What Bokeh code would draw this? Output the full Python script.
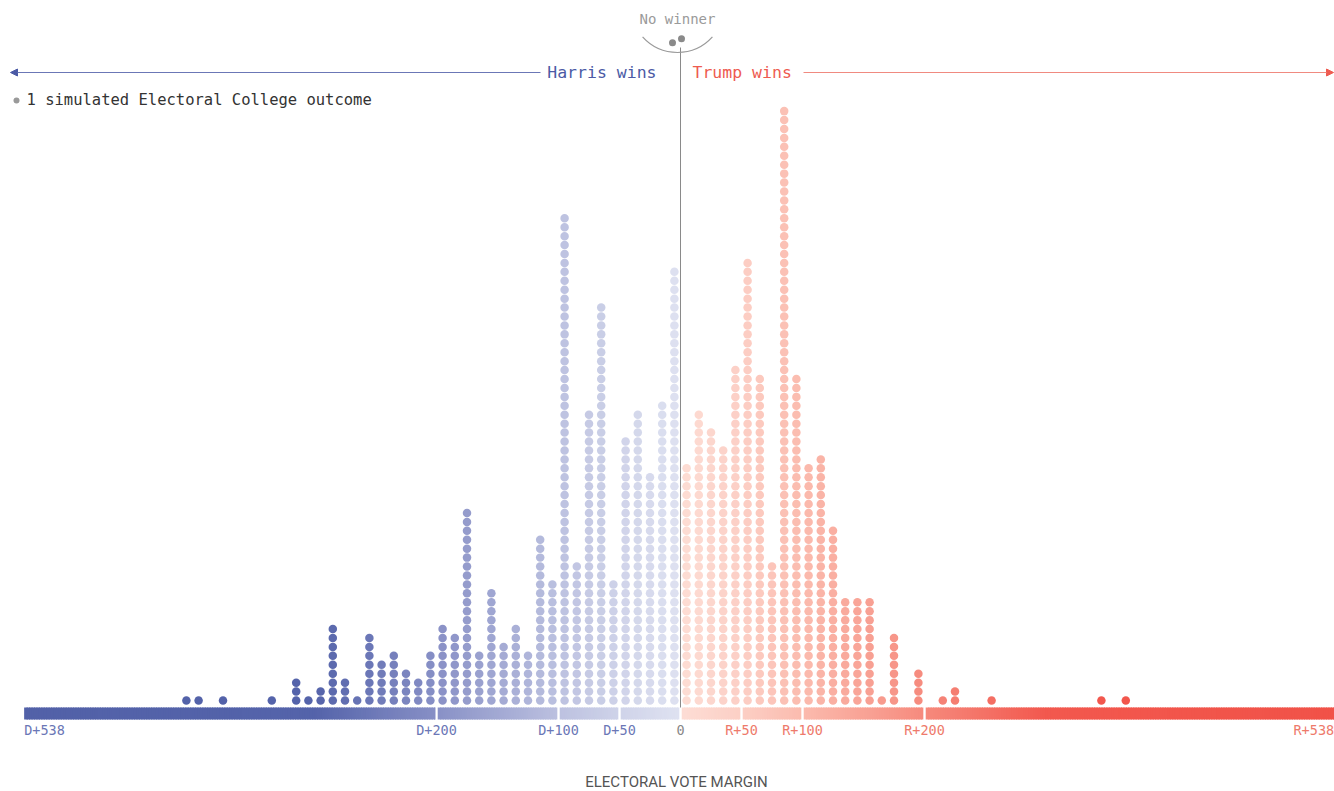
from bokeh.plotting import figure
from bokeh.models import Range1d, Arrow, NormalHead
from bokeh.core.properties import value
from bokeh.embed import file_html
from bokeh.resources import INLINE
import math

# ---------------- data ----------------
dem_bins = [-405, -395, -375, -335, -315, -305, -295, -285, -275, -265, -255, -245,
            -235, -225, -215, -205, -195, -185, -175, -165, -155, -145, -135, -125,
            -115, -105, -95, -85, -75, -65, -55, -45, -35, -25, -15, -5]
dem_counts = [1, 1, 1, 1, 3, 1, 2, 9, 3, 1, 8, 5,
              6, 4, 3, 6, 9, 8, 22, 6, 13, 7, 9, 6,
              19, 14, 55, 16, 33, 45, 14, 30, 33, 26, 34, 49]
rep_bins = [5, 15, 25, 35, 45, 55, 65, 75, 85, 95, 105, 115, 125, 135, 145, 155,
            165, 175, 195, 215, 225, 255, 345, 365]
rep_counts = [27, 33, 31, 29, 38, 50, 37, 16, 67, 37, 27, 28, 20, 12, 12, 12,
              1, 8, 4, 1, 2, 1, 1, 1]
tie_count = 2

tick_values = [-538, -200, -100, -50, 0, 50, 100, 200, 538]
tick_labels = ["D+538", "D+200", "D+100", "D+50", "0", "R+50", "R+100", "R+200", "R+538"]
segment_breaks = [-538, -200, -100, -50, 0, 50, 100, 200, 538]

# ---------------- layout helpers ----------------
W, H = 1334, 791
PX_PER_EV = 1.22
X0 = -680 / PX_PER_EV
X1 = X0 + W / PX_PER_EV
PX_PER_ROW = 8.93
ROW0 = 700  # screen y of bottom dot row


def sy(s):
    return (ROW0 - s) / PX_PER_ROW


def sx(s):
    return X0 + s / PX_PER_EV


Y0 = sy(H)
Y1 = sy(0)

# colour gradient
dem_stops = [(-538, (82, 97, 168)), (-300, (84, 99, 170)), (-200, (136, 144, 198)),
             (-100, (188, 193, 224)), (-50, (207, 211, 233)), (0, (223, 226, 241))]
rep_stops = [(0, (253, 221, 213)), (50, (252, 207, 197)), (100, (251, 187, 174)),
             (200, (246, 138, 125)), (300, (242, 88, 78)), (538, (241, 82, 72))]


def interp(stops, v):
    if v <= stops[0][0]:
        c = stops[0][1]
    elif v >= stops[-1][0]:
        c = stops[-1][1]
    else:
        for (a, ca), (b, cb) in zip(stops[:-1], stops[1:]):
            if a <= v <= b:
                t = (v - a) / (b - a)
                c = tuple(ca[i] + (cb[i] - ca[i]) * t for i in range(3))
                break
    return "#%02x%02x%02x" % tuple(int(round(x)) for x in c)


def color_for(v):
    return interp(dem_stops, v) if v < 0 else interp(rep_stops, v)


p = figure(width=W, height=H, x_range=Range1d(X0, X1), y_range=Range1d(Y0, Y1),
           output_backend="svg", toolbar_location=None, min_border=0,
           x_axis_type=None, y_axis_type=None)
p.grid.visible = False
p.outline_line_color = None
p.background_fill_color = "white"
p.border_fill_color = "white"

# ---------------- gradient bar ----------------
gap = 2.4 / PX_PER_EV
lefts, rights, cols = [], [], []
step = 2
for a, b in zip(segment_breaks[:-1], segment_breaks[1:]):
    sa = a + (gap / 2 if a != segment_breaks[0] else 0)
    sb = b - (gap / 2 if b != segment_breaks[-1] else 0)
    x = sa
    while x < sb:
        xe = min(x + step, sb)
        lefts.append(x)
        rights.append(min(xe + 1.0, sb))
        cols.append(color_for((x + xe) / 2))
        x = xe
p.quad(left=lefts, right=rights, bottom=sy(719), top=sy(707), fill_color=cols,
       line_color=None)

# ---------------- dots ----------------
dx, dy, dc = [], [], []
for bins, counts in ((dem_bins, dem_counts), (rep_bins, rep_counts)):
    for b, n in zip(bins, counts):
        for r in range(n):
            dx.append(b)
            dy.append(r)
            dc.append(color_for(b))
p.scatter(x=dx, y=dy, size=8.5, fill_color=dc, line_color=None)

# zero line
p.segment(x0=0, y0=sy(47), x1=0, y1=sy(707), line_color="#8a8a8a", line_width=1)

# ---------------- tick labels ----------------
for v, lab in zip(tick_values, tick_labels):
    if v < 0:
        c = "#6b77b6"
    elif v > 0:
        c = "#ee7a6b"
    else:
        c = "#888888"
    align = "center"
    xv = v
    if v == tick_values[0]:
        align = "left"
    elif v == tick_values[-1]:
        align = "right"
        xv = X1 - 0.3
    p.text(x=[xv], y=[sy(729)], text=[lab], text_align=align, text_baseline="middle",
           text_font=value("DejaVu Sans Mono"), text_font_size="13.5px", text_color=c)

p.text(x=[sx(676)], y=[sy(781)], text=["ELECTORAL VOTE MARGIN"], text_align="center",
       text_baseline="middle", text_font=value("Roboto"), text_font_size="15px",
       text_color="#555555")

# ---------------- header ----------------
p.add_layout(Arrow(end=NormalHead(size=7, fill_color="#4b5aa5", line_color="#4b5aa5"),
                   x_start=sx(540), y_start=sy(72), x_end=sx(10), y_end=sy(72),
                   line_color="#6b77b6", line_width=1))
p.add_layout(Arrow(end=NormalHead(size=7, fill_color="#ee5b50", line_color="#ee5b50"),
                   x_start=sx(803), y_start=sy(72), x_end=sx(1333), y_end=sy(72),
                   line_color="#f08a80", line_width=1))
p.text(x=[sx(656)], y=[sy(72)], text=["Harris wins"], text_align="right",
       text_baseline="middle", text_font=value("DejaVu Sans Mono"),
       text_font_size="16.5px", text_color="#4b5aa5")
p.text(x=[sx(692)], y=[sy(72)], text=["Trump wins"], text_align="left",
       text_baseline="middle", text_font=value("DejaVu Sans Mono"),
       text_font_size="16.5px", text_color="#ee5b50")

p.text(x=[sx(677)], y=[sy(18)], text=["No winner"], text_align="center",
       text_baseline="middle", text_font=value("DejaVu Sans Mono"),
       text_font_size="14px", text_color="#9a9a9a")
p.arc(x=sx(677), y=sy(5), radius=47, radius_units="screen",
      start_angle=math.radians(222), end_angle=math.radians(318),
      line_color="#9a9a9a", line_width=1.2)
tie_x = [sx(672), sx(681)][:tie_count]
tie_y = [sy(42.3), sy(38.3)][:tie_count]
p.scatter(x=tie_x, y=tie_y, size=7, fill_color="#8a8a8a", line_color=None)

# legend
p.scatter(x=[sx(16)], y=[sy(100)], size=6, fill_color="#9a9a9a", line_color=None)
p.text(x=[sx(26)], y=[sy(99)], text=["1 simulated Electoral College outcome"],
       text_align="left", text_baseline="middle", text_font=value("DejaVu Sans Mono"),
       text_font_size="15.5px", text_color="#333333")

open("out.html", "w").write(file_html(p, INLINE))
